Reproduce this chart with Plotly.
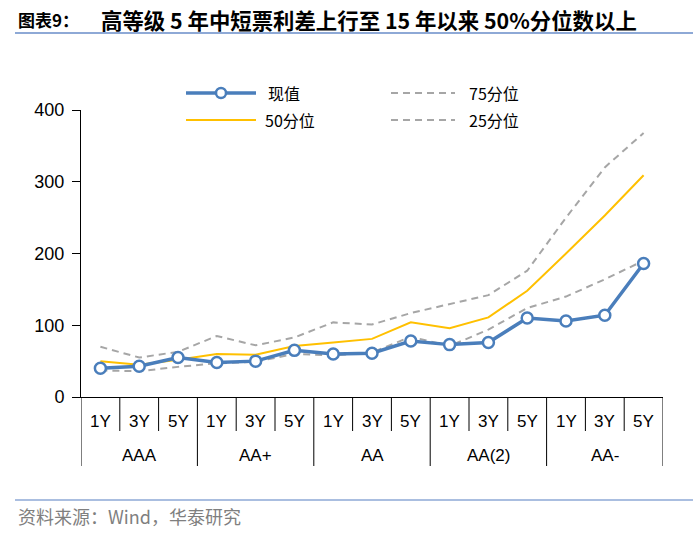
import plotly.graph_objects as go

# ---- data ----
groups = ["AAA", "AA+", "AA", "AA(2)", "AA-"]
terms = ["1Y", "3Y", "5Y"]
current = [40, 43, 55, 48, 50, 65, 60, 61, 78, 73, 76, 110, 106, 114, 186]
p50 = [50, 45, 52, 60, 59, 71, 76, 81, 104, 96, 111, 148, 200, 253, 309]
p75 = [70, 55, 63, 85, 72, 83, 104, 101, 117, 130, 142, 176, 250, 320, 368]
p25 = [37, 36, 42, 47, 49, 60, 58, 62, 84, 71, 94, 124, 140, 164, 190]
yticks = [0, 100, 200, 300, 400]

title_prefix = "图表9："
title_main = "高等级 5 年中短票利差上行至 15 年以来 50%分位数以上"
source = "资料来源：Wind，华泰研究"
legend_names = ["现值", "75分位", "50分位", "25分位"]

# ---- layout geometry (pixels) ----
W, H = 700, 535
L, R, T, B = 81, 37, 110, 138
PW, PH = W - L - R, H - T - B

def px(x):
    return (x - L) / PW

def py(y):
    return (H - B - y) / PH

BLUE = "#4A7EBB"
YELLOW = "#FFC000"
GREY = "#A6A6A6"
CJK = "Noto Sans CJK SC"

n = len(groups) * len(terms)
xs = list(range(n))

fig = go.Figure()
fig.add_trace(go.Scatter(x=xs, y=p75, mode="lines", name=legend_names[1],
                         line=dict(color=GREY, width=2, dash="7px,5px")))
fig.add_trace(go.Scatter(x=xs, y=p25, mode="lines", name=legend_names[3],
                         line=dict(color=GREY, width=2, dash="7px,5px")))
fig.add_trace(go.Scatter(x=xs, y=p50, mode="lines", name=legend_names[2],
                         line=dict(color=YELLOW, width=2)))
fig.add_trace(go.Scatter(x=xs, y=current, mode="lines+markers", name=legend_names[0],
                         line=dict(color=BLUE, width=3.5),
                         marker=dict(symbol="circle", size=11, color="white",
                                     line=dict(color=BLUE, width=2.5))))

shapes = []
annotations = []

# category table below the x axis
sub_bottom = py(431)
grp_bottom = py(466)
for i in range(n + 1):
    is_group = (i % len(terms) == 0)
    shapes.append(dict(type="line", xref="x", yref="paper",
                       x0=i - 0.5, x1=i - 0.5, y0=0,
                       y1=grp_bottom if is_group else sub_bottom,
                       line=dict(color="black", width=1)))
for gi, g in enumerate(groups):
    for ti, t in enumerate(terms):
        annotations.append(dict(x=gi * len(terms) + ti, y=py(421), xref="x", yref="paper",
                                text=t, showarrow=False, yanchor="middle",
                                font=dict(family="Liberation Sans", size=17, color="black")))
    annotations.append(dict(x=gi * len(terms) + (len(terms) - 1) / 2, y=py(455),
                            xref="x", yref="paper", text=g, showarrow=False,
                            yanchor="middle",
                            font=dict(family="Liberation Sans", size=17, color="black")))

# title and source
annotations.append(dict(x=px(16), y=py(20), xref="paper", yref="paper", text="<b>" + title_prefix + "</b>",
                        showarrow=False, xanchor="left", yanchor="middle",
                        font=dict(family=CJK, size=17, color="black")))
annotations.append(dict(x=px(99), y=py(20), xref="paper", yref="paper", text="<b>" + title_main + "</b>",
                        showarrow=False, xanchor="left", yanchor="middle",
                        font=dict(family=CJK, size=21.4, color="black")))
shapes.append(dict(type="line", xref="paper", yref="paper", x0=px(15), x1=px(693),
                   y0=py(33), y1=py(33), line=dict(color="#8EA9D6", width=2)))
shapes.append(dict(type="line", xref="paper", yref="paper", x0=px(15), x1=px(693),
                   y0=py(500), y1=py(500), line=dict(color="#8EA9D6", width=1.5)))
annotations.append(dict(x=px(16), y=py(516), xref="paper", yref="paper", text=source,
                        showarrow=False, xanchor="left", yanchor="middle",
                        font=dict(family=CJK, size=18, color="#7F7F7F")))

# manual legend
leg = [
    (legend_names[0], 186, 256, 93, dict(color=BLUE, width=3.5), True, 266),
    (legend_names[1], 391, 455, 93, dict(color=GREY, width=2, dash="7px,5px"), False, 467),
    (legend_names[2], 186, 256, 120, dict(color=YELLOW, width=2), False, 263),
    (legend_names[3], 391, 455, 120, dict(color=GREY, width=2, dash="7px,5px"), False, 467),
]
for name, x0, x1, yy, ln, mk, tx in leg:
    shapes.append(dict(type="line", xref="paper", yref="paper", x0=px(x0), x1=px(x1),
                       y0=py(yy), y1=py(yy), line=ln))
    if mk:
        cx, r = (x0 + x1) / 2, 5
        shapes.append(dict(type="circle", xref="paper", yref="paper",
                           x0=px(cx - r), x1=px(cx + r), y0=py(yy + r), y1=py(yy - r),
                           fillcolor="white", line=dict(color=BLUE, width=2.5)))
    annotations.append(dict(x=px(tx), y=py(yy), xref="paper", yref="paper", text=name,
                            showarrow=False, xanchor="left", yanchor="middle",
                            font=dict(family=CJK, size=16, color="black")))

fig.update_layout(
    width=W, height=H,
    margin=dict(l=L, r=R, t=T, b=B, pad=0),
    paper_bgcolor="white", plot_bgcolor="white",
    showlegend=False, hovermode=False,
    shapes=shapes, annotations=annotations,
    xaxis=dict(range=[-0.5, n - 0.5], showgrid=False, zeroline=False,
               showline=True, linecolor="black", linewidth=1,
               showticklabels=False, ticks="", fixedrange=True),
    yaxis=dict(range=[0, 400], tickvals=yticks, showgrid=False, zeroline=False,
               showline=True, linecolor="black", linewidth=1,
               ticks="outside", ticklen=8, tickcolor="black", tickwidth=1,
               ticklabelstandoff=4, fixedrange=True,
               tickfont=dict(family="Liberation Sans", size=18, color="black")),
)

fig.write_html("out.html", config={"displayModeBar": False, "staticPlot": True},
               post_script="document.body.style.margin='0';document.body.style.overflow='hidden';")
